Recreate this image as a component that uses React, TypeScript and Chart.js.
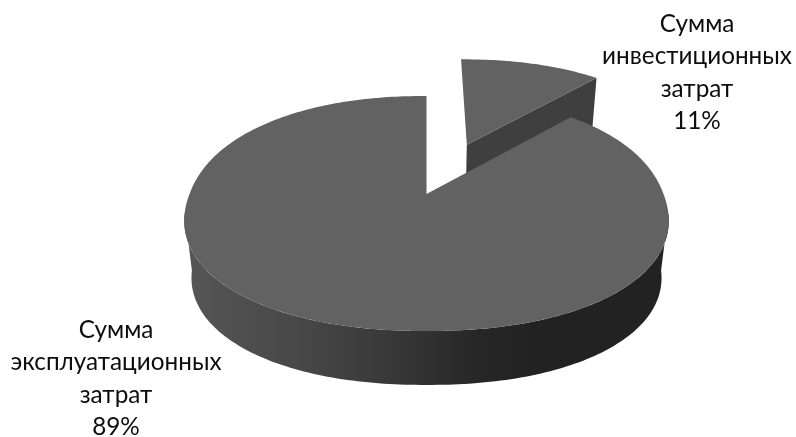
import React, { useEffect, useRef } from "react";
import { Chart, registerables } from "chart.js";

Chart.register(...registerables);

const categories = [
  ["Сумма", "инвестиционных", "затрат"],
  ["Сумма", "эксплуатационных", "затрат"],
];
const shares = [11, 89];
const explode = [0.5, 0];
const labelCenters = [
  { x: 697, y: 24 },
  { x: 116, y: 330 },
];
const LINE_PITCH = 32.5;
const FONT = '24.3px Lato, "Open Sans", sans-serif';

// Parameters of the tilted-disc view used for the 3D pie.
const view = {
  cx: 426.5,
  cy: 194,
  rx: 237,
  ry: 114.3,
  py: 0.166,
  px: 0.18,
  depth: 58,
  shrink: 0.03,
  round: 2.15,
  warp: 0.05,
  tangent: 0.18,
};

function project(u: number, v: number, z: number) {
  const s = 1 - view.shrink * z;
  return {
    x: view.cx + (view.rx * s * u) / (1 + view.px * v),
    y: view.cy + view.depth * z - (view.ry * s * v) / (1 + view.py * v),
  };
}

// Angle foreshortened by the tilt of the disc.
function warped(a: number) {
  return a + view.warp * Math.sin(2 * (a + Math.PI / 2));
}

// Unit circle pushed slightly toward a superellipse.
function rimPoint(a: number) {
  const t = warped(a);
  const c = Math.cos(t);
  const s = -Math.sin(t);
  const r = Math.pow(Math.pow(Math.abs(c), view.round) + Math.pow(Math.abs(s), view.round), -1 / view.round);
  return { u: c * r, v: s * r };
}

function rim(a0: number, a1: number, ou: number, ov: number, z: number) {
  const pts: { x: number; y: number }[] = [];
  const steps = Math.max(2, Math.ceil((Math.abs(a1 - a0) * 180) / Math.PI));
  for (let i = 0; i <= steps; i++) {
    const p = rimPoint(a0 + ((a1 - a0) * i) / steps);
    pts.push(project(ou + p.u, ov + p.v, z));
  }
  return pts;
}

function fillPath(ctx: CanvasRenderingContext2D, pts: { x: number; y: number }[], fill: string | CanvasGradient) {
  ctx.beginPath();
  pts.forEach((p, i) => (i ? ctx.lineTo(p.x, p.y) : ctx.moveTo(p.x, p.y)));
  ctx.closePath();
  ctx.fillStyle = fill;
  ctx.fill();
}

// Replaces the flat arcs with extruded, tilted wedges built from each arc's own angles.
const tiltedPie = {
  id: "tiltedPie",
  beforeDatasetDraw(chart: any, args: any) {
    const ctx: CanvasRenderingContext2D = chart.ctx;
    const arcs = args.meta.data as any[];
    const order = arcs.map((_, i) => i).sort((a, b) => explode[b] - explode[a]);

    const side = ctx.createLinearGradient(186, 0, 668, 0);
    side.addColorStop(0, "#565656");
    side.addColorStop(0.24, "#474747");
    side.addColorStop(0.45, "#363636");
    side.addColorStop(0.6, "#272727");
    side.addColorStop(0.72, "#222222");
    side.addColorStop(1, "#222222");

    ctx.save();
    for (const i of order) {
      const { startAngle, endAngle } = arcs[i];
      const mid = warped((startAngle + endAngle) / 2);
      const ou = explode[i] * Math.cos(mid);
      const ov = -explode[i] * Math.sin(mid);

      // Curved outer wall, between the two silhouette tangents.
      const a0 = Math.max(startAngle, view.tangent);
      const a1 = Math.min(endAngle, Math.PI - view.tangent);
      if (a1 > a0) {
        fillPath(ctx, [...rim(a0, a1, ou, ov, 0), ...rim(a1, a0, ou, ov, 1)], side);
      }

      // Cut face of the pulled-out wedge.
      if (explode[i] > 0) {
        const e = rimPoint(endAngle);
        fillPath(
          ctx,
          [project(ou, ov, 0), project(ou + e.u, ov + e.v, 0), project(ou + e.u, ov + e.v, 1), project(ou, ov, 1)],
          "#3f3f3f"
        );
      }

      // Top surface.
      fillPath(ctx, [project(ou, ov, 0), ...rim(startAngle, endAngle, ou, ov, 0)], "#626262");
    }
    ctx.restore();
    return false;
  },
  afterDatasetsDraw(chart: any) {
    const ctx: CanvasRenderingContext2D = chart.ctx;
    const total = shares.reduce((s, n) => s + n, 0);
    ctx.save();
    ctx.font = FONT;
    ctx.fillStyle = "#0d0d0d";
    ctx.textAlign = "center";
    ctx.textBaseline = "middle";
    categories.forEach((lines, i) => {
      const all = [...lines, `${Math.round((shares[i] / total) * 100)}%`];
      all.forEach((line, j) => ctx.fillText(line, labelCenters[i].x, labelCenters[i].y + j * LINE_PITCH));
    });
    ctx.restore();
  },
};

export default function App() {
  const ref = useRef<HTMLCanvasElement>(null);
  useEffect(() => {
    document.body.style.margin = "0";
    const chart = new Chart(ref.current!, {
      type: "pie",
      data: {
        labels: categories.map((c) => c.join(" ")),
        datasets: [{ data: shares, borderWidth: 0 }],
      },
      options: {
        animation: false,
        responsive: false,
        plugins: { legend: { display: false }, tooltip: { enabled: false } },
      },
      plugins: [tiltedPie],
    });
    return () => chart.destroy();
  }, []);
  return <canvas ref={ref} width={796} height={437} style={{ display: "block" }} />;
}
